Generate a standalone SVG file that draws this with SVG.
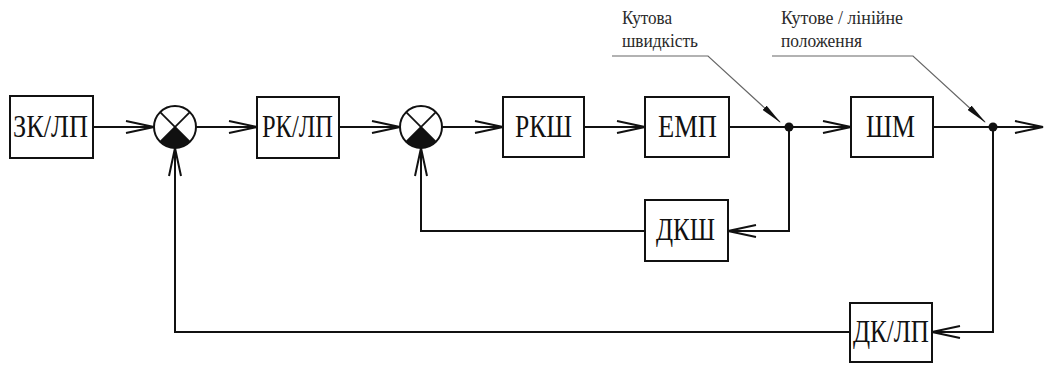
<svg xmlns="http://www.w3.org/2000/svg" width="1044" height="365" viewBox="0 0 1044 365">
  <defs>
    <style>
      .box { fill: #fff; stroke: #111; stroke-width: 2; }
      .lbl { font-family: "Liberation Serif", serif; font-size: 32px; fill: #111; }
      .note { font-family: "Liberation Serif", serif; font-size: 18px; fill: #2a2a2a; }
      .wire { fill: none; stroke: #111; stroke-width: 2; }
      .lead { fill: none; stroke: #666; stroke-width: 1.2; }
      .sum-ring { fill: #fff; stroke: #111; stroke-width: 2; }
      .sum-x { stroke: #111; stroke-width: 1.8; }
      .dot { fill: #111; }
    </style>
    <!-- open V arrowhead for signal lines -->
    <marker id="arr" viewBox="0 0 30 14" refX="29" refY="7" markerWidth="30" markerHeight="14" markerUnits="userSpaceOnUse" orient="auto">
      <path d="M1,1 L29,7 L1,13" fill="none" stroke="#111" stroke-width="2"/>
    </marker>
    <!-- slim filled arrowhead for callout leaders -->
    <marker id="leadArr" viewBox="0 0 22 6" refX="21" refY="3" markerWidth="22" markerHeight="6" markerUnits="userSpaceOnUse" orient="auto">
      <path d="M0,0 L22,3 L0,6 Z" fill="#111"/>
    </marker>
    <!-- comparator: circle with X and filled lower sector -->
    <g id="summer">
      <circle cx="0" cy="0" r="21" class="sum-ring"/>
      <path d="M0,0 L-14.85,14.85 A21,21 0 0 0 14.85,14.85 Z" fill="#111"/>
      <line x1="-14.85" y1="-14.85" x2="14.85" y2="14.85" class="sum-x"/>
      <line x1="14.85" y1="-14.85" x2="-14.85" y2="14.85" class="sum-x"/>
    </g>
  </defs>

  <rect width="1044" height="365" fill="#fff"/>

  <!-- signal connectors -->
  <g id="connectors">
    <path class="wire" d="M93,127 H154" marker-end="url(#arr)"/>
    <path class="wire" d="M196,127 H257" marker-end="url(#arr)"/>
    <path class="wire" d="M339,127 H400" marker-end="url(#arr)"/>
    <path class="wire" d="M442,127 H503" marker-end="url(#arr)"/>
    <path class="wire" d="M584,127 H645" marker-end="url(#arr)"/>
    <path class="wire" d="M729,127 H789"/>
    <path class="wire" d="M789,127 H851" marker-end="url(#arr)"/>
    <path class="wire" d="M933,127 H1043" marker-end="url(#arr)"/>
    <path class="wire" d="M789,127 V231 H728" marker-end="url(#arr)"/>
    <path class="wire" d="M645,231 H421 V148" marker-end="url(#arr)"/>
    <path class="wire" d="M993,127 V332 H932" marker-end="url(#arr)"/>
    <path class="wire" d="M850,332 H175 V148" marker-end="url(#arr)"/>
    <circle class="dot" cx="789" cy="127" r="4.5"/>
    <circle class="dot" cx="993" cy="127" r="4.5"/>
    <!-- callout leaders -->
    <path class="lead" d="M612,56 H708 L780,122" marker-end="url(#leadArr)"/>
    <path class="lead" d="M772,56 H913 L985,122" marker-end="url(#leadArr)"/>
  </g>

  <!-- callout texts -->
  <g id="note-speed">
    <text class="note" x="622" y="24" textLength="50" lengthAdjust="spacingAndGlyphs">Кутова</text>
    <text class="note" x="622" y="47" textLength="76" lengthAdjust="spacingAndGlyphs">швидкість</text>
  </g>
  <g id="note-position">
    <text class="note" x="781" y="24" textLength="122" lengthAdjust="spacingAndGlyphs">Кутове / лінійне</text>
    <text class="note" x="781" y="47" textLength="81" lengthAdjust="spacingAndGlyphs">положення</text>
  </g>

  <g id="zk-lp">
    <rect class="box" x="10" y="96" width="83" height="62"/>
    <text class="lbl" x="13" y="137" textLength="75" lengthAdjust="spacingAndGlyphs">ЗК/ЛП</text>
  </g>
  <g id="sum1"><use href="#summer" x="175" y="127"/></g>
  <g id="rk-lp">
    <rect class="box" x="257" y="97" width="82" height="61"/>
    <text class="lbl" x="262" y="137" textLength="71" lengthAdjust="spacingAndGlyphs">РК/ЛП</text>
  </g>
  <g id="sum2"><use href="#summer" x="421" y="127"/></g>
  <g id="rksh">
    <rect class="box" x="503" y="97" width="81" height="60"/>
    <text class="lbl" x="515" y="137" textLength="57" lengthAdjust="spacingAndGlyphs">РКШ</text>
  </g>
  <g id="emp">
    <rect class="box" x="645" y="97" width="84" height="60"/>
    <text class="lbl" x="658" y="137" textLength="59" lengthAdjust="spacingAndGlyphs">ЕМП</text>
  </g>
  <g id="shm">
    <rect class="box" x="851" y="97" width="82" height="60"/>
    <text class="lbl" x="866" y="137" textLength="49" lengthAdjust="spacingAndGlyphs">ШМ</text>
  </g>
  <g id="dksh">
    <rect class="box" x="645" y="200" width="83" height="61"/>
    <text class="lbl" x="656" y="240" textLength="59" lengthAdjust="spacingAndGlyphs">ДКШ</text>
  </g>
  <g id="dk-lp">
    <rect class="box" x="850" y="303" width="82" height="59"/>
    <text class="lbl" x="853" y="342" textLength="76" lengthAdjust="spacingAndGlyphs">ДК/ЛП</text>
  </g>
</svg>
